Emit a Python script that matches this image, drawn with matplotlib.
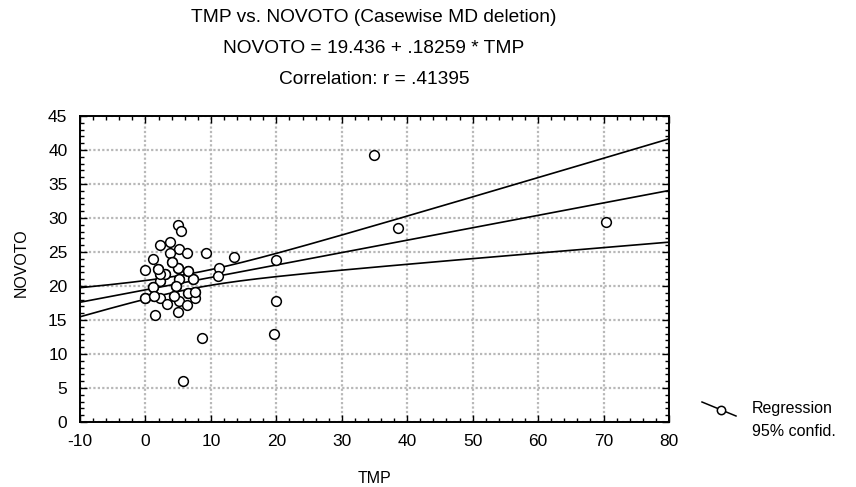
import numpy as np
import matplotlib
matplotlib.use("Agg")
import matplotlib.pyplot as plt
from matplotlib.lines import Line2D
from matplotlib.ticker import MultipleLocator

plt.rcParams['font.family'] = ['Liberation Sans', 'DejaVu Sans']
plt.rcParams['axes.unicode_minus'] = False

# data (visible circles)
tmp = [4.9, 5.5, 2.2, 3.8, 5.2, 6.3, 3.8, 9.3, 13.5, 1.2, 4.1, 0.0, 1.9, 5.0,
       6.5, 11.3, 2.2, 3.0, 20.0, 5.2, 7.3, 11.1, 2.2, 1.2, 4.7, 6.5, 7.6,
       0.0, 1.3, 2.2, 4.3, 7.6, 3.3, 5.2, 6.3, 4.9, 1.4, 20.0, 8.6, 19.7,
       5.7, 34.9, 38.6, 70.3]
novoto = [29.0, 28.1, 26.1, 26.4, 25.5, 24.9, 24.9, 24.9, 24.3, 24.0, 23.5,
          22.4, 22.5, 22.7, 22.25, 22.7, 21.7, 21.7, 23.8, 21.0, 21.1, 21.4,
          20.7, 19.85, 20.0, 19.0, 19.1, 18.3, 18.6, 18.2, 18.5, 18.2, 17.4,
          17.8, 17.25, 16.2, 15.7, 17.8, 12.3, 13.0, 6.0, 39.2, 28.5, 29.4]
# estimated cases hidden under overlapping circles in the dense cluster
tmp_hidden = [5.2, 7.3, 2.2, 4.7, 1.2, 6.5, 7.6, 3.0, 2.2, 6.5, 1.9, 5.0,
              4.1, 0.0, 1.3, 4.3]
novoto_hidden = [21.0, 21.1, 20.7, 20.0, 19.85, 19.0, 19.1, 21.7, 21.7, 22.25,
                 22.5, 22.7, 23.5, 18.3, 18.6, 18.5]

INTERCEPT = 19.436
SLOPE = 0.18259
T_CRIT = 2.002
title_lines = ["TMP vs. NOVOTO (Casewise MD deletion)",
               "NOVOTO = 19.436 + .18259 * TMP",
               "Correlation: r = .41395"]
xticks = [-10, 0, 10, 20, 30, 40, 50, 60, 70, 80]
yticks = [0, 5, 10, 15, 20, 25, 30, 35, 40, 45]

x = np.array(tmp + tmp_hidden)
y = np.array(novoto + novoto_hidden)
n = len(x)
xbar = x.mean()
sxx = ((x - xbar) ** 2).sum()
resid = y - (INTERCEPT + SLOPE * x)
s = np.sqrt((resid ** 2).sum() / (n - 2))

xs = np.linspace(-10, 80, 200)
yfit = INTERCEPT + SLOPE * xs
half = T_CRIT * s * np.sqrt(1.0 / n + (xs - xbar) ** 2 / sxx)

fig = plt.figure(figsize=(8.56, 4.87), dpi=100)
ax = fig.add_axes([80 / 856, 1 - 422 / 487, (669 - 80) / 856, (422 - 116) / 487])

ax.plot(xs, yfit, color='black', lw=1.2, zorder=3)
ax.plot(xs, yfit + half, color='black', lw=1.2, zorder=3)
ax.plot(xs, yfit - half, color='black', lw=1.2, zorder=3)
ax.plot(x, y, linestyle='none', marker='o', markersize=7, markerfacecolor='white',
        markeredgecolor='black', markeredgewidth=1.1, zorder=4)

ax.set_xlim(-10, 80)
ax.set_ylim(0, 45)
ax.set_xticks(xticks)
ax.set_yticks(yticks)
ax.xaxis.set_minor_locator(MultipleLocator(2))
ax.yaxis.set_minor_locator(MultipleLocator(1))
ax.tick_params(which='both', direction='in', top=True, right=True, labelsize=12.5,
               width=1)
ax.tick_params(axis='x', which='major', pad=9)
ax.tick_params(axis='y', which='major', pad=9)
ax.tick_params(which='major', length=5)
ax.tick_params(which='minor', length=3)
ax.grid(True, which='major', color='#b8b8b8', linestyle=(0, (1, 1)), lw=1.6, zorder=0)
for sp in ax.spines.values():
    sp.set_linewidth(1.4)

ax.set_xlabel("TMP", fontsize=11.5)
ax.set_ylabel("NOVOTO", fontsize=11.5)
ax.xaxis.set_label_coords(0.5, (422 - 471) / 306)
ax.yaxis.set_label_coords((29 - 80) / 589, 0.52)

for i, t in enumerate(title_lines):
    fig.text(374 / 856, 1 - (22.5 + 30.5 * i) / 487, t, ha='center', va='baseline',
             fontsize=13.8)

# legend
fig.lines.append(Line2D([702 / 856, 736 / 856], [1 - 402 / 487, 1 - 416 / 487],
                        color='black', lw=1.1, transform=fig.transFigure))
fig.lines.append(Line2D([721 / 856], [1 - 409.5 / 487], marker='o', markersize=6,
                        markerfacecolor='white', markeredgecolor='black',
                        markeredgewidth=1.1, linestyle='none',
                        transform=fig.transFigure))
fig.text(752 / 856, 1 - 409 / 487, "Regression", ha='left', va='center', fontsize=11.5)
fig.text(752 / 856, 1 - 432 / 487, "95% confid.", ha='left', va='center', fontsize=11.5)

fig.savefig("out.png", dpi=100)
